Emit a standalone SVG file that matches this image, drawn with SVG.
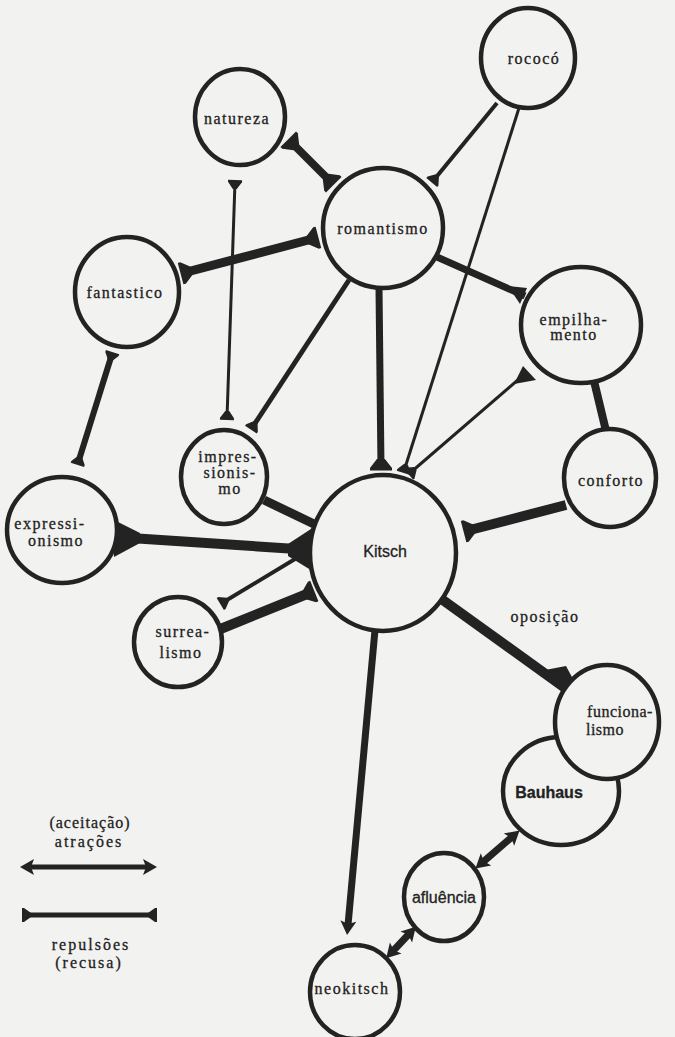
<svg xmlns="http://www.w3.org/2000/svg" width="675" height="1037" viewBox="0 0 675 1037">
  <style>
    .node ellipse { fill: #f2f2f0; stroke: #232323; stroke-width: 4.5; }
    .lbl { font-family: "Liberation Serif", "DejaVu Serif", serif; font-size: 16px; letter-spacing: 1.5px; fill: #222; stroke: #222; stroke-width: 0.3; text-anchor: middle; }
    .sans { font-family: "Liberation Sans", "DejaVu Sans", sans-serif; letter-spacing: 0; }
    .ln { stroke: #232323; fill: none; stroke-linecap: butt; }
    .flare { fill: #232323; }
  </style>
  <defs>
    <!-- flat bar end (repulsion) -->
    <marker id="tee" viewBox="-12 -12 24 24" refX="0" refY="0" markerWidth="24" markerHeight="24" markerUnits="userSpaceOnUse" orient="auto-start-reverse">
      <path d="M-7,-2 L0,-7 L2,-7 L2,7 L0,7 L-7,2 Z" fill="#232323"/>
    </marker>
    <marker id="teeL" viewBox="-14 -14 28 28" refX="0" refY="0" markerWidth="28" markerHeight="28" markerUnits="userSpaceOnUse" orient="auto-start-reverse">
      <path d="M-9,-4 L0,-11 L2.5,-11 L2.5,11 L0,11 L-9,4 Z" fill="#232323"/>
    </marker>
    <!-- pointed end (attraction) -->
    <marker id="arr" viewBox="-12 -12 24 24" refX="0" refY="0" markerWidth="24" markerHeight="24" markerUnits="userSpaceOnUse" orient="auto-start-reverse">
      <path d="M10,0 L-4,-8 L-1,0 L-4,8 Z" fill="#232323"/>
    </marker>
  </defs>

  <rect width="675" height="1037" fill="#f2f2f0"/>

  <g id="connectors">
    <line class="ln" x1="290" y1="141" x2="332" y2="183" stroke-width="8" marker-start="url(#teeL)" marker-end="url(#teeL)"/>
    <line class="ln" x1="497" y1="103" x2="433" y2="181" stroke-width="4" marker-end="url(#tee)"/>
    <line class="ln" x1="519" y1="108" x2="404" y2="471" stroke-width="3" marker-end="url(#tee)"/>
    <line class="ln" x1="183" y1="273" x2="316" y2="238" stroke-width="9" marker-start="url(#teeL)" marker-end="url(#teeL)"/>
    <line class="ln" x1="235" y1="182" x2="227" y2="418" stroke-width="3" marker-start="url(#tee)" marker-end="url(#tee)"/>
    <line class="ln" x1="349" y1="280" x2="252" y2="428" stroke-width="5" marker-end="url(#tee)"/>
    <line class="ln" x1="379" y1="288" x2="381" y2="468" stroke-width="7" marker-end="url(#teeL)"/>
    <line class="ln" x1="437" y1="257" x2="525" y2="296" stroke-width="7"/>
    <line class="ln" x1="527" y1="372" x2="410" y2="473" stroke-width="3" marker-end="url(#tee)"/>
    <line class="ln" x1="594" y1="381" x2="606" y2="431" stroke-width="8"/>
    <line class="ln" x1="566" y1="505" x2="466" y2="531" stroke-width="10" marker-end="url(#teeL)"/>
    <line class="ln" x1="112" y1="354" x2="78" y2="463" stroke-width="6" marker-start="url(#tee)" marker-end="url(#tee)"/>
    <line class="ln" x1="115" y1="537" x2="312" y2="550" stroke-width="10"/>
    <line class="ln" x1="264" y1="500" x2="314" y2="524" stroke-width="9"/>
    <line class="ln" x1="305" y1="553" x2="222" y2="603" stroke-width="4" marker-end="url(#tee)"/>
    <line class="ln" x1="218" y1="630" x2="312" y2="592" stroke-width="10" marker-end="url(#teeL)"/>
    <line class="ln" x1="440" y1="598" x2="565" y2="688" stroke-width="10"/>
    <line class="ln" x1="375" y1="630" x2="348" y2="925" stroke-width="7" marker-end="url(#arr)"/>
    <line class="ln" x1="512" y1="837" x2="483" y2="862" stroke-width="7" marker-start="url(#arr)" marker-end="url(#arr)"/>
    <line class="ln" x1="409" y1="934" x2="393" y2="951" stroke-width="7" marker-start="url(#arr)" marker-end="url(#arr)"/>
    <!-- ink fillets where lines meet the circles -->
    <path class="flare" d="M140,533 L140,543 L114,557 L112,519 Z"/>
    <path class="flare" d="M288,544 L288,556 L314,572 L314,527 Z"/>
    <path class="flare" d="M514,384 L523,366 L536,380 Z"/>
    <path class="flare" d="M545,670 L556,684 L580,692 L566,666 Z"/>
    <path class="flare" d="M508,286 L527,288 L520,304 Z"/>
  </g>

  <g id="n-rococo" class="node"><ellipse cx="528" cy="58" rx="47" ry="50"/><text class="lbl" x="534" y="64">rococó</text></g>
  <g id="n-natureza" class="node"><ellipse cx="240" cy="117" rx="45" ry="48"/><text class="lbl" x="237" y="124">natureza</text></g>
  <g id="n-romantismo" class="node"><ellipse cx="383" cy="228" rx="60" ry="60"/><text class="lbl" x="383" y="234">romantismo</text></g>
  <g id="n-fantastico" class="node"><ellipse cx="127" cy="292" rx="52" ry="55"/><text class="lbl" x="125" y="298">fantastico</text></g>
  <g id="n-empilhamento" class="node"><ellipse cx="581" cy="325" rx="60" ry="58"/><text class="lbl" x="574" y="325">empilha-</text><text class="lbl" x="574" y="340">mento</text></g>
  <g id="n-impressionismo" class="node"><ellipse cx="224" cy="477" rx="43" ry="47"/><text class="lbl" x="228" y="462">impres-</text><text class="lbl" x="230" y="478">sionis-</text><text class="lbl" x="230" y="494">mo</text></g>
  <g id="n-conforto" class="node"><ellipse cx="610" cy="478" rx="46" ry="49"/><text class="lbl" x="611" y="486">conforto</text></g>
  <g id="n-expressionismo" class="node"><ellipse cx="62" cy="530" rx="55" ry="53"/><text class="lbl" x="50" y="529">expressi-</text><text class="lbl" x="56" y="546">onismo</text></g>
  <g id="n-bauhaus" class="node"><ellipse cx="561" cy="791" rx="58" ry="54"/><text class="lbl sans" x="549" y="798" font-weight="bold">Bauhaus</text></g>
  <g id="n-funcionalismo" class="node"><ellipse cx="607" cy="722" rx="52" ry="57"/><text class="lbl" x="620" y="717" style="letter-spacing:0.5px">funciona-</text><text class="lbl" x="605" y="735" style="letter-spacing:0.5px">lismo</text></g>
  <g id="n-kitsch" class="node"><ellipse cx="383" cy="553" rx="73" ry="78"/><text class="lbl sans" x="385" y="557" font-size="19">Kitsch</text></g>
  <g id="n-surrealismo" class="node"><ellipse cx="178" cy="642" rx="44" ry="45"/><text class="lbl" x="183" y="637">surrea-</text><text class="lbl" x="181" y="658">lismo</text></g>
  <g id="n-afluencia" class="node"><ellipse cx="444" cy="897" rx="40" ry="44"/><text class="lbl sans" x="444" y="903" font-size="17">afluência</text></g>
  <g id="n-neokitsch" class="node"><ellipse cx="355" cy="992" rx="45" ry="47"/><text class="lbl" x="352" y="994">neokitsch</text></g>

  <text class="lbl" x="545" y="622" font-size="15">oposição</text>

  <g id="legend">
    <text class="lbl" x="90" y="828" font-size="15" style="letter-spacing:1px">(aceitação)</text>
    <text class="lbl" x="89" y="847" font-size="15" style="letter-spacing:2px">atrações</text>
    <line class="ln" x1="30" y1="867" x2="147" y2="867" stroke-width="5" marker-start="url(#arr)" marker-end="url(#arr)"/>
    <line class="ln" x1="24" y1="915" x2="155" y2="915" stroke-width="5" marker-start="url(#tee)" marker-end="url(#tee)"/>
    <text class="lbl" x="91" y="950" style="letter-spacing:2px">repulsões</text>
    <text class="lbl" x="89" y="968" style="letter-spacing:2px">(recusa)</text>
  </g>
</svg>
